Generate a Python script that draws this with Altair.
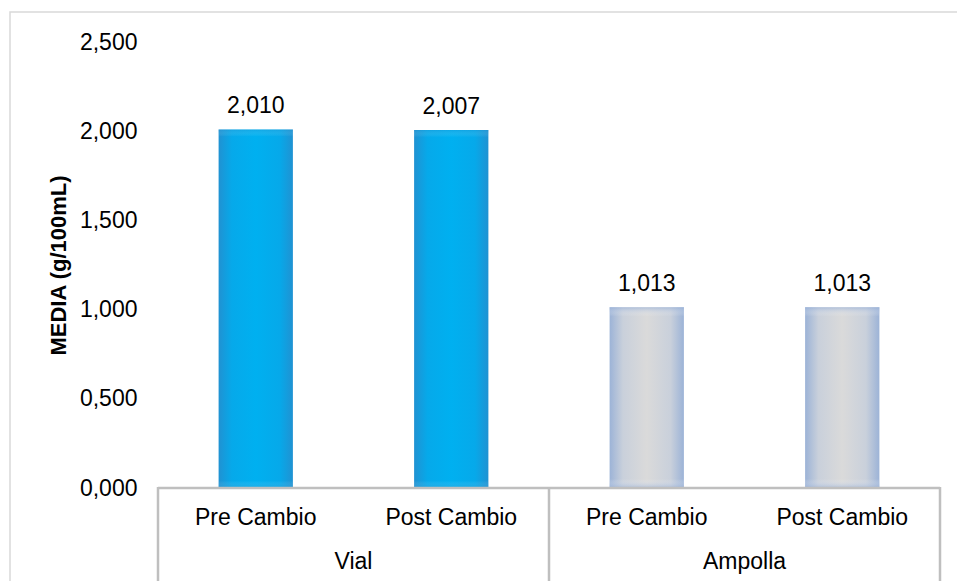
import altair as alt
import pandas as pd

# ---- data ----
groups = ["Vial", "Vial", "Ampolla", "Ampolla"]
phases = ["Pre Cambio", "Post Cambio", "Pre Cambio", "Post Cambio"]
values = [2.010, 2.007, 1.013, 1.013]
y_ticks = [0.0, 0.5, 1.0, 1.5, 2.0, 2.5]
boundaries = [0, 2, 4]

df = pd.DataFrame({"idx": list(range(len(values))), "group": groups,
                   "phase": phases, "value": values})
bdf = pd.DataFrame({"b": boundaries})

W, H = 782, 446
FONT = "Liberation Sans"
FS = 23
half = 0.19

xs = alt.Scale(domain=[0, 4], nice=False, zero=False)
ys = alt.Scale(domain=[0, 2.5], nice=False)

base = alt.Chart(df).transform_calculate(
    pos="datum.idx + 0.5",
    x0=f"datum.idx + 0.5 - {half}",
    x1=f"datum.idx + 0.5 + {half}",
    zero="0",
    label="replace(format(datum.value, '.3f'), '.', ',')",
)

def hgrad(edge, mid, center):
    return {"gradient": "linear", "x1": 0, "y1": 0, "x2": 1, "y2": 0,
            "stops": [{"offset": 0, "color": edge},
                      {"offset": 0.18, "color": mid},
                      {"offset": 0.5, "color": center},
                      {"offset": 0.82, "color": mid},
                      {"offset": 1, "color": edge}]}

def vgrad(edge, frac):
    return {"gradient": "linear", "x1": 0, "y1": 0, "x2": 0, "y2": 1,
            "stops": [{"offset": 0, "color": edge},
                      {"offset": frac, "color": "rgba(255,255,255,0)"},
                      {"offset": 1 - frac, "color": "rgba(255,255,255,0)"},
                      {"offset": 1, "color": edge}]}

enc = dict(
    x=alt.X("x0:Q", scale=xs, axis=None),
    x2="x1:Q",
    y=alt.Y("value:Q", scale=ys,
            axis=alt.Axis(values=y_ticks, labelExpr="replace(format(datum.value, '.3f'), '.', ',')",
                          domain=False, ticks=False, grid=False, labelPadding=21,
                          labelFontSize=FS, labelFont=FONT, labelColor="#000000",
                          title="MEDIA (g/100mL)", titleFont=FONT, titleFontSize=22,
                          titleFontWeight="bold", titleColor="#000000", titlePadding=9)),
    y2="zero:Q",
)

vial_h = base.transform_filter("datum.group == 'Vial'").mark_rect(
    fill=hgrad("#2092D2", "#06A9EA", "#00B0F0")).encode(**enc)
vial_v = base.transform_filter("datum.group == 'Vial'").mark_rect(
    fill=vgrad("rgba(40,145,205,0.3)", 0.02)).encode(**enc)
amp_h = base.transform_filter("datum.group == 'Ampolla'").mark_rect(
    fill=hgrad("#9CB3D7", "#C9D0DB", "#DADADA")).encode(**enc)
amp_v = base.transform_filter("datum.group == 'Ampolla'").mark_rect(
    fill=vgrad("rgba(150,175,215,0.6)", 0.05)).encode(**enc)

vlabels = base.mark_text(font=FONT, fontSize=FS, color="#000000", dy=-16,
                         baseline="alphabetic").encode(
    x=alt.X("pos:Q", scale=xs), y=alt.Y("value:Q", scale=ys), text="label:N")

cat_labels = base.mark_text(font=FONT, fontSize=FS, color="#000000",
                            baseline="alphabetic").encode(
    x=alt.X("pos:Q", scale=xs), y=alt.value(H + 37), text="phase:N")

grp_labels = base.transform_aggregate(
    pos="mean(pos)", groupby=["group"]).mark_text(
    font=FONT, fontSize=FS, color="#000000", baseline="alphabetic").encode(
    x=alt.X("pos:Q", scale=xs), y=alt.value(H + 81), text="group:N")

base_line = base.transform_aggregate(
    lo="min(idx)", hi="max(idx)").transform_calculate(
    hi1="datum.hi + 1", zero="0").mark_rule(color="#BFBFBF", strokeWidth=2.5).encode(
    x=alt.X("lo:Q", scale=xs), x2="hi1:Q", y=alt.Y("zero:Q", scale=ys))

vlines = alt.Chart(bdf).mark_rule(color="#BFBFBF", strokeWidth=2.5).encode(
    x=alt.X("b:Q", scale=xs), y=alt.value(H - 1), y2=alt.value(H + 140))

frame = base.transform_aggregate(n="count()").mark_rect(
    fill=None, stroke="#D9D9D9", strokeWidth=1.5).encode(
    x=alt.value(-148), y=alt.value(-30), x2=alt.value(W + 60), y2=alt.value(H + 140))

chart = alt.layer(frame, vial_h, vial_v, amp_h, amp_v, vlabels, base_line, vlines,
                  cat_labels, grp_labels).properties(
    width=W, height=H,
    autosize=alt.AutoSizeParams(type="none"),
    padding={"left": 158, "top": 42, "right": 17, "bottom": 93},
    background="#FFFFFF",
).configure_view(stroke=None)

chart.save("out.html", embed_options={"renderer": "svg", "actions": False})
